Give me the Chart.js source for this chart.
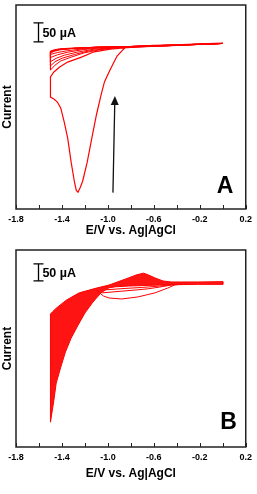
<!DOCTYPE html>
<html>
<head>
<meta charset="utf-8">
<script src="https://cdn.jsdelivr.net/npm/chart.js@4"></script>
<style>
  body { margin: 0; background: #fff; }
  #wrap { position: relative; width: 257px; height: 494px; }
  .panel { position: absolute; left: 0; width: 257px; }
  #panelA { top: 0; height: 245px; }
  #panelB { top: 245px; height: 249px; }
</style>
</head>
<body>
<div id="wrap">
  <div class="panel" id="panelA"><canvas id="chartA"></canvas></div>
  <div class="panel" id="panelB"><canvas id="chartB"></canvas></div>
</div>
<script>
// ---- DATA: potential E (V vs. Ag|AgCl), current I (µA) ----
const E_TICK_LABELS = ['-1.8', '-1.4', '-1.0', '-0.6', '-0.2', '0.2'];

// Panel A: first scan with the big reduction peak, then the shrinking loops
const A_SCAN1 = [
    [0.00, 5], [-0.20, 3], [-0.40, 0], [-0.60, -1], [-0.80, -4], [-0.84, -5],
    [-0.87, -13], [-0.92, -29], [-0.95, -47], [-0.99, -71], [-1.03, -97],
    [-1.06, -132], [-1.10, -184], [-1.14, -245], [-1.18, -308], [-1.22, -358],
    [-1.24, -374], [-1.26, -387], [-1.275, -382], [-1.29, -362], [-1.32, -308],
    [-1.35, -245], [-1.38, -203], [-1.41, -166], [-1.44, -150], [-1.47, -142],
    [-1.50, -137], [-1.50, -84], [-1.47, -71], [-1.42, -58], [-1.35, -45],
    [-1.23, -32], [-1.12, -18], [-0.98, -11], [-0.86, -8], [-0.74, -5],
    [-0.40, -1], [-0.20, 2], [0.00, 4]
];
const A_SCAN2 = [
    [0.00, 4], [-0.40, 0], [-0.80, -4], [-1.10, -6], [-1.30, -9], [-1.42, -13],
    [-1.47, -17], [-1.50, -22], [-1.50, -66], [-1.46, -53], [-1.41, -42],
    [-1.32, -32], [-1.21, -21], [-1.08, -13], [-0.95, -8], [-0.82, -5],
    [-0.40, -1], [0.00, 4]
];
const A_SCAN3 = [
    [0.00, 4], [-0.40, 0], [-0.80, -4], [-1.10, -6], [-1.30, -9], [-1.42, -12],
    [-1.47, -15], [-1.50, -20], [-1.50, -55], [-1.46, -44], [-1.40, -35],
    [-1.29, -25], [-1.17, -16], [-1.04, -10], [-0.91, -7], [-0.40, -1], [0.00, 4]
];
const A_SCAN4 = [
    [0.00, 4], [-0.40, 0], [-0.80, -4], [-1.10, -6], [-1.30, -9], [-1.42, -12],
    [-1.47, -15], [-1.50, -18], [-1.50, -44], [-1.45, -35], [-1.38, -27],
    [-1.27, -19], [-1.12, -11], [-0.99, -8], [-0.40, -1], [0.00, 4]
];
const A_SCAN5 = [
    [0.00, 4], [-0.40, 0], [-0.80, -4], [-1.10, -6], [-1.30, -9], [-1.42, -11],
    [-1.47, -14], [-1.50, -17], [-1.50, -33], [-1.44, -26], [-1.35, -19],
    [-1.21, -12], [-1.08, -8], [-0.40, -1], [0.00, 4]
];
const A_SCAN6 = [
    [0.00, 4], [-0.40, 0], [-0.80, -4], [-1.10, -6], [-1.30, -8], [-1.42, -10],
    [-1.47, -13], [-1.50, -16], [-1.50, -25], [-1.44, -20], [-1.35, -15],
    [-1.21, -10], [-1.08, -7], [-0.40, -1], [0.00, 4]
];

// Panel B: envelope of the many overlapping cycles, plus the loops near -0.7 V
const B_BAND = [
    [-1.50, -409], [-1.50, -91], [-1.48, -84], [-1.45, -74], [-1.36, -50],
    [-1.25, -29], [-1.10, -15], [-0.99, -6], [-0.82, 15], [-0.75, 24],
    [-0.69, 29], [-0.65, 24], [-0.59, 15], [-0.52, 6], [-0.45, 3],
    [-0.22, 3], [0.00, 4], [0.00, -4], [-0.22, -4], [-0.45, -5],
    [-0.65, -7], [-0.82, -9], [-0.93, -11], [-0.99, -14], [-1.06, -29],
    [-1.13, -56], [-1.20, -88], [-1.26, -124], [-1.32, -162], [-1.37, -203],
    [-1.41, -247], [-1.45, -294], [-1.47, -344], [-1.50, -409]
];
const B_LOOP1 = [
    [-1.05, -29], [-0.88, -24], [-0.74, -20], [-0.65, -17], [-0.55, -12],
    [-0.45, -6], [-0.40, -4]
];
const B_LOOP2 = [
    [-1.02, -20], [-0.85, -16], [-0.70, -13], [-0.55, -9], [-0.42, -4]
];
const B_FIRST = [
    [-1.10, -22], [-1.08, -26], [-1.04, -38], [-0.99, -44], [-0.88, -47],
    [-0.74, -41], [-0.59, -29], [-0.48, -15], [-0.42, -6], [-0.35, -3]
];

// ---- STYLE ----
const RED = '#ff0000';
const FONT = '"Liberation Sans", Arial, sans-serif';
Chart.defaults.font.family = FONT;
Chart.defaults.color = '#000';

function toXY(pairs) {
    return pairs.map(([x, y]) => ({ x, y }));
}

function curve(pairs, extra) {
    return Object.assign({
        data: toXY(pairs),
        borderColor: RED,
        borderWidth: 1,
        pointRadius: 0,
        fill: false,
        tension: 0
    }, extra || {});
}

// frame, inward ticks, scale bar, panel letter, arrow
const panelDecor = {
    id: 'panelDecor',
    afterDatasetsDraw(chart, args, opts) {
        const { ctx, chartArea: a, scales: { x, y } } = chart;
        ctx.save();
        ctx.strokeStyle = '#222';
        ctx.lineWidth = 1.5;
        ctx.strokeRect(a.left, a.top, a.right - a.left, a.bottom - a.top);

        ctx.lineWidth = 1;
        ctx.beginPath();
        x.ticks.forEach(t => {
            const px = Math.round(x.getPixelForValue(t.value)) + 0.5;
            ctx.moveTo(px, a.bottom);
            ctx.lineTo(px, a.bottom - 4);
        });
        ctx.stroke();

        // 50 µA scale bar
        const bx = Math.round(x.getPixelForValue(opts.bar.x)) + 0.5;
        const b0 = y.getPixelForValue(opts.bar.from);
        const b1 = y.getPixelForValue(opts.bar.to);
        ctx.strokeStyle = '#000';
        ctx.lineWidth = 1.3;
        ctx.beginPath();
        ctx.moveTo(bx, b0); ctx.lineTo(bx, b1);
        ctx.moveTo(bx - 5, b0); ctx.lineTo(bx + 5, b0);
        ctx.moveTo(bx - 5, b1); ctx.lineTo(bx + 5, b1);
        ctx.stroke();

        ctx.fillStyle = '#000';
        ctx.textBaseline = 'middle';
        ctx.textAlign = 'left';
        ctx.font = 'bold 12.5px ' + FONT;
        ctx.fillText(opts.bar.text, x.getPixelForValue(opts.bar.textX), y.getPixelForValue(opts.bar.textY));

        ctx.textAlign = 'center';
        ctx.font = 'bold 23px ' + FONT;
        ctx.fillText(opts.letter.text, x.getPixelForValue(opts.letter.x), y.getPixelForValue(opts.letter.y));

        if (opts.arrow) {
            const x0 = x.getPixelForValue(opts.arrow.from[0]);
            const y0 = y.getPixelForValue(opts.arrow.from[1]);
            const x1 = x.getPixelForValue(opts.arrow.to[0]);
            const y1 = y.getPixelForValue(opts.arrow.to[1]);
            const ang = Math.atan2(y1 - y0, x1 - x0);
            const hl = 9, hw = 4;
            const bxh = x1 - hl * Math.cos(ang), byh = y1 - hl * Math.sin(ang);
            ctx.strokeStyle = '#111';
            ctx.lineWidth = 1.3;
            ctx.beginPath();
            ctx.moveTo(x0, y0);
            ctx.lineTo(bxh, byh);
            ctx.stroke();
            ctx.fillStyle = '#111';
            ctx.beginPath();
            ctx.moveTo(x1, y1);
            ctx.lineTo(bxh + hw * Math.sin(ang), byh - hw * Math.cos(ang));
            ctx.lineTo(bxh - hw * Math.sin(ang), byh + hw * Math.cos(ang));
            ctx.closePath();
            ctx.fill();
        }
        ctx.restore();
    }
};

function makePanel(id, datasets, yMin, yMax, xScaleHeight, titlePad, decor) {
    return new Chart(document.getElementById(id), {
        type: 'line',
        data: { datasets },
        options: {
            responsive: true,
            maintainAspectRatio: false,
            animation: false,
            devicePixelRatio: 1,
            layout: { padding: { top: 5, right: 8, left: 0, bottom: 0 } },
            plugins: {
                legend: { display: false },
                tooltip: { enabled: false },
                panelDecor: decor
            },
            scales: {
                x: {
                    type: 'linear',
                    min: -1.8,
                    max: 0.2,
                    grid: { display: false, drawTicks: false },
                    border: { display: false },
                    ticks: {
                        stepSize: 0.2,
                        autoSkip: false,
                        maxRotation: 0,
                        padding: 5,
                        color: '#000',
                        font: { size: 9, weight: 'bold' },
                        callback: (v, i) => i % 2 === 0 ? E_TICK_LABELS[i / 2] : ''
                    },
                    title: {
                        display: true,
                        text: 'E/V vs. Ag|AgCl',
                        color: '#000',
                        font: { size: 12, weight: 'bold' },
                        padding: { top: 0, bottom: titlePad }
                    },
                    afterFit: s => { s.height = xScaleHeight; }
                },
                y: {
                    min: yMin,
                    max: yMax,
                    grid: { display: false, drawTicks: false },
                    border: { display: false },
                    ticks: { display: false },
                    title: {
                        display: true,
                        text: 'Current',
                        color: '#000',
                        font: { size: 12, weight: 'bold' },
                        padding: { top: 0, bottom: 0 }
                    },
                    afterFit: s => { s.width = 16; }
                }
            }
        },
        plugins: [panelDecor]
    });
}

makePanel('chartA', [
    curve(A_SCAN6), curve(A_SCAN5), curve(A_SCAN4), curve(A_SCAN3), curve(A_SCAN2),
    curve(A_SCAN1, { borderWidth: 1.2 })
], -431, 105, 36, 7, {
    bar: { x: -1.61, from: 8, to: 58, text: '50 µA', textX: -1.57, textY: 30 },
    letter: { text: 'A', x: 0.02, y: -372 },
    arrow: { from: [-0.956, -388], to: [-0.939, -134] }
});

makePanel('chartB', [
    curve(B_BAND, { fill: 'shape', backgroundColor: 'rgba(255,0,0,0.92)' }),
    curve(B_LOOP1), curve(B_LOOP2), curve(B_FIRST)
], -482, 97, 47, 13, {
    bar: { x: -1.61, from: 6, to: 56, text: '50 µA', textX: -1.57, textY: 27 },
    letter: { text: 'B', x: 0.05, y: -411 },
    arrow: null
});
</script>
</body>
</html>
